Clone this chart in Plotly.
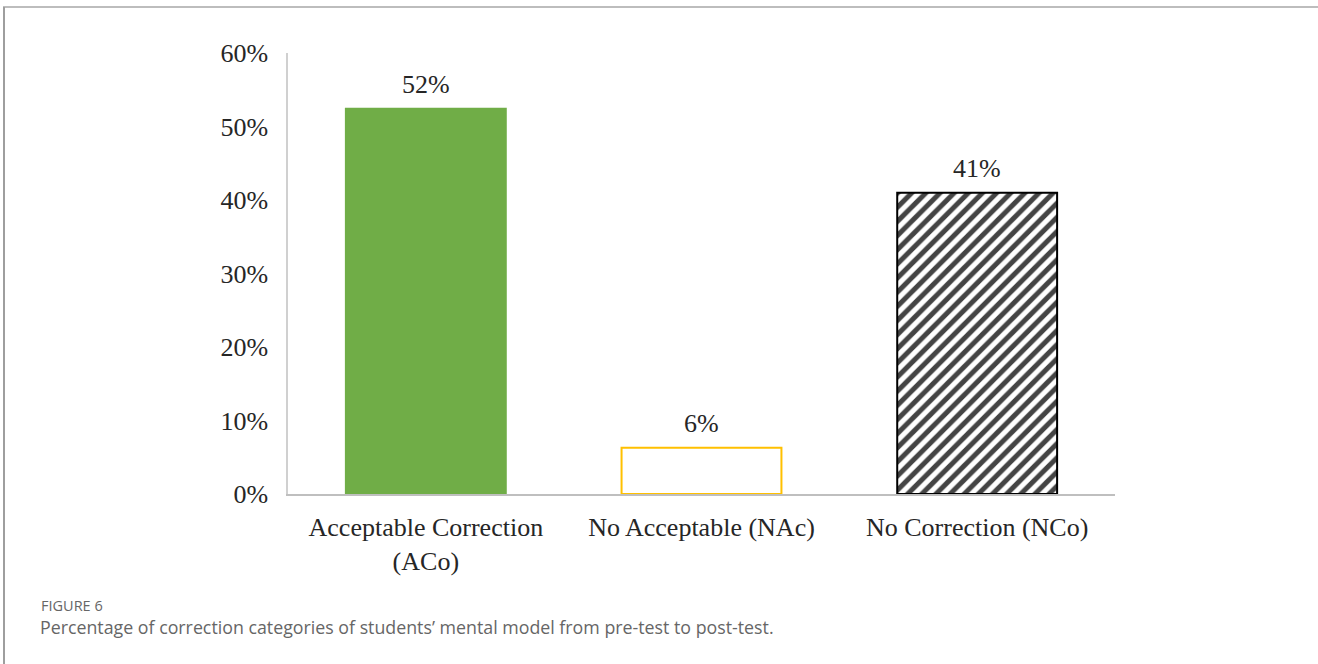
import plotly.graph_objects as go

categories = ["Acceptable Correction<br>(ACo)", "No Acceptable (NAc)", "No Correction (NCo)"]
values = [0.524, 0.063, 0.41]
y_ticks = [0, 0.1, 0.2, 0.3, 0.4, 0.5, 0.6]
fill_colors = ["#70AD47", "#FFFFFF", "#FFFFFF"]
line_colors = ["#70AD47", "#FFC000", "#000000"]
patterns = ["", "", "/"]
caption_label = "FIGURE 6"
caption_text = "Percentage of correction categories of students\u2019 mental model from pre-test to post-test."

W, H = 1318, 664
L, R, T, B = 288, 1318 - 1115, 53, 664 - 494
pw, ph = W - L - R, H - T - B

fig = go.Figure()
fig.add_trace(go.Bar(
    x=categories, y=values,
    marker=dict(
        color=fill_colors,
        line=dict(color=line_colors, width=2),
        pattern=dict(shape=patterns, fgcolor="#000000", bgcolor="#FFFFFF",
                     fgopacity=1, fillmode="overlay",
                     size=10, solidity=0.5),
    ),
    hoverinfo="skip",
))

for c, v in zip(categories, values):
    fig.add_annotation(x=c, y=v, text=f"{v:.0%}", showarrow=False,
                       yanchor="bottom", yshift=8,
                       font=dict(family="Liberation Serif", size=26, color="#262626"))

def px_x(x):
    return (x - L) / pw

def px_y(y):
    return (H - B - y) / ph

fig.add_shape(type="line", xref="paper", yref="paper",
              x0=px_x(3), x1=px_x(1320), y0=px_y(7), y1=px_y(7),
              line=dict(color="#BDBDBD", width=2))
fig.add_shape(type="line", xref="paper", yref="paper",
              x0=px_x(4), x1=px_x(4), y0=px_y(7), y1=px_y(670),
              line=dict(color="#9E9E9E", width=2))

fig.add_annotation(xref="paper", yref="paper", x=px_x(39), y=px_y(605),
                   xanchor="left", yanchor="middle", showarrow=False,
                   text=caption_label,
                   font=dict(family="Open Sans", size=14.5, color="#666666"))
fig.add_annotation(xref="paper", yref="paper", x=px_x(38), y=px_y(627),
                   xanchor="left", yanchor="middle", showarrow=False,
                   text=caption_text,
                   font=dict(family="Open Sans", size=17.8, color="#666666"))

fig.update_layout(
    width=W, height=H,
    margin=dict(l=L, r=R, t=T, b=B, autoexpand=False),
    paper_bgcolor="white", plot_bgcolor="white",
    bargap=0.42,
    showlegend=False,
    font=dict(family="Liberation Serif", size=26, color="#262626"),
)
fig.update_xaxes(showline=True, linecolor="#BFBFBF", linewidth=1.5,
                 showgrid=False, ticks="", ticklabelstandoff=9,
                 layer="below traces",
                 tickfont=dict(family="Liberation Serif", size=26, color="#262626"))
fig.update_yaxes(range=[0, 0.6], tickvals=y_ticks, tickformat=".0%",
                 showline=True, linecolor="#D0D0D0", linewidth=1.5,
                 showgrid=False, zeroline=False, ticks="", ticklabelstandoff=13,
                 layer="below traces",
                 tickfont=dict(family="Liberation Serif", size=26, color="#262626"))

fig.write_html("out.html", config={"displayModeBar": False},
               post_script="document.body.style.margin='0';document.body.style.overflow='hidden';")
